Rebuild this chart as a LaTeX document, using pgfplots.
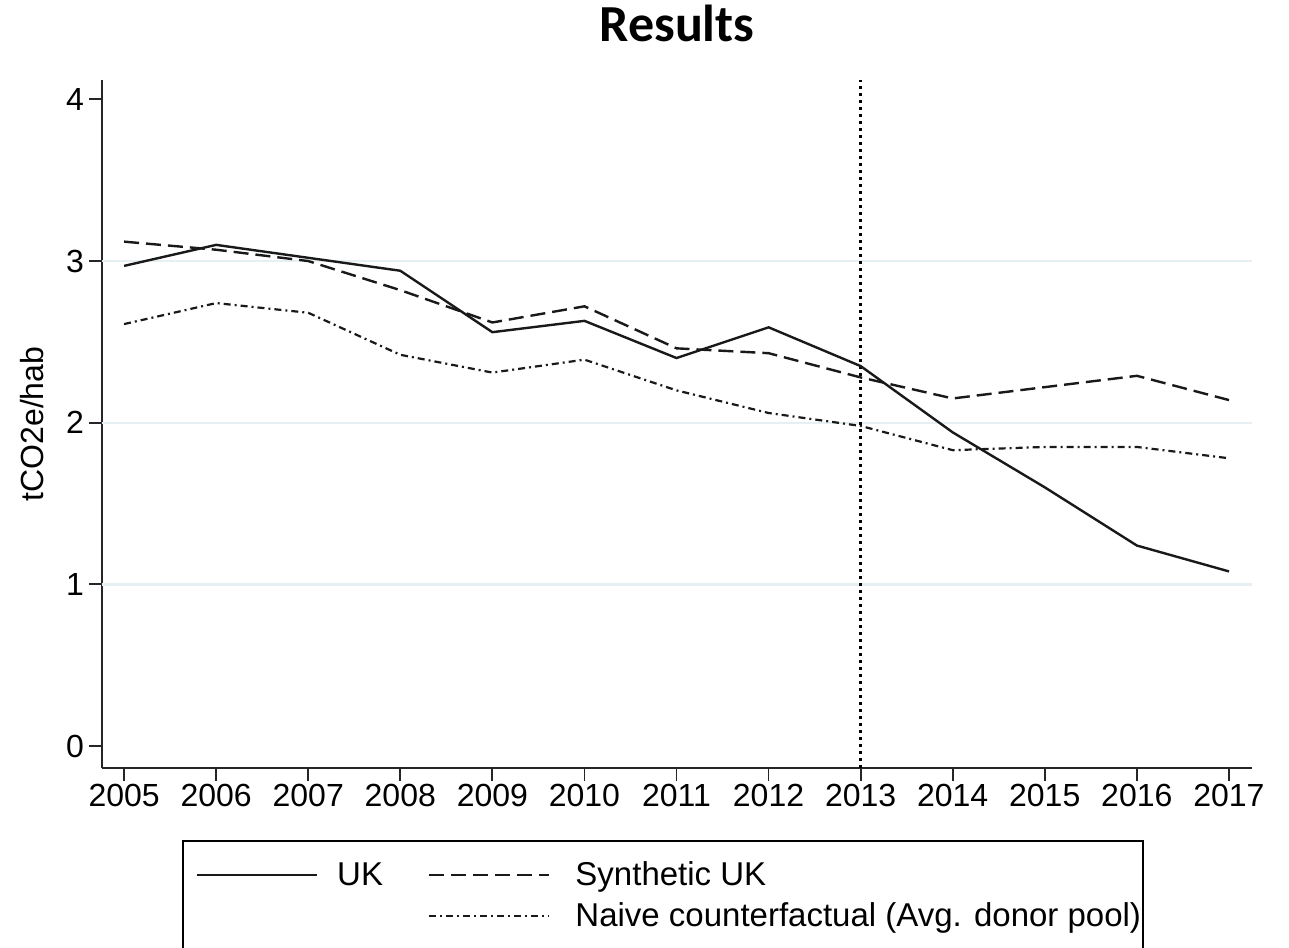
\documentclass[border=0pt]{standalone}
\usepackage{pgfplots}
\pgfplotsset{compat=1.18}
\usepackage{fontspec}
\setmainfont{Liberation Sans}
\newfontfamily\titlefont{Carlito}
\definecolor{gridc}{RGB}{230,239,241}
\begin{document}
\begin{tikzpicture}
\begin{axis}[
  name=ax,
  scale only axis, width=575pt, height=344pt,
  xmin=2004.76, xmax=2017.25, ymin=-0.136, ymax=4.12,
  axis x line*=bottom, axis y line*=left,
  axis line style={line width=1pt, black!85},
  xtick={2005,...,2017}, ytick={0,1,2,3,4},
  tick align=outside, major tick length=6.5pt,
  tick style={line width=0.9pt, black!85},
  /pgf/number format/assume math mode=true,
  /pgf/number format/1000 sep={},
  ticklabel style={font=\fontsize{16}{19}\selectfont},
  xticklabel style={yshift=2pt},
  yticklabel style={xshift=1pt},
  extra y ticks={1,2,3}, extra y tick labels={},
  extra y tick style={grid=major, major grid style={color=gridc, line width=1.2pt}, tick style={draw=none}},
  ylabel={tCO2e/hab},
  ylabel style={font=\fontsize{16}{19}\selectfont, at={(axis description cs:-0.0513,0.5)}, anchor=base},
  title={Results},
  title style={font=\titlefont\bfseries\fontsize{26}{30}\selectfont, at={(axis description cs:0.5,1.0378)}, anchor=base, yshift=0pt},
  legend columns=2,
  legend cell align=left,
  legend image code/.code={\path (0pt,0pt); \draw[#1, line width=1.2pt] (5.5pt,0pt) -- (65.5pt,0pt);},
  legend style={at={(axis description cs:0.0696,-0.1047)}, anchor=north west,
    draw=black, line width=0.8pt, inner xsep=1pt, inner ysep=7pt,
    font=\fontsize{16.5}{20}\selectfont,
    nodes={inner xsep=0pt, inner ysep=3.5pt},
    /tikz/column 1/.style={column sep=9.5pt},
    /tikz/column 2/.style={column sep=17pt},
    /tikz/column 3/.style={column sep=12.5pt}},
]
\addplot[black, line width=1.3pt, dash pattern=on 1.5pt off 2pt, forget plot] coordinates {(2013,-0.136) (2013,4.12)};
\addplot[black!90, line width=1.2pt] coordinates {
(2005,2.97) (2006,3.10) (2007,3.02) (2008,2.94) (2009,2.56) (2010,2.63) (2011,2.40)
(2012,2.59) (2013,2.35) (2014,1.94) (2015,1.60) (2016,1.24) (2017,1.08)};
\addlegendentry{UK}
\addplot[black!90, line width=1.2pt, dash pattern=on 7.5pt off 3.5pt] coordinates {
(2005,3.12) (2006,3.07) (2007,3.00) (2008,2.82) (2009,2.62) (2010,2.72) (2011,2.46)
(2012,2.43) (2013,2.28) (2014,2.15) (2015,2.22) (2016,2.29) (2017,2.14)};
\addlegendentry{Synthetic UK}
\addlegendimage{empty legend}
\addlegendentry{}
\addplot[black!90, line width=1.1pt, dash pattern=on 3.5pt off 2pt on 1pt off 2pt] coordinates {
(2005,2.61) (2006,2.74) (2007,2.68) (2008,2.42) (2009,2.31) (2010,2.39) (2011,2.20)
(2012,2.06) (2013,1.98) (2014,1.83) (2015,1.85) (2016,1.85) (2017,1.78)};
\addlegendentry{Naive counterfactual (Avg. donor pool)}
\end{axis}
\pgfresetboundingbox
\useasboundingbox ([xshift=-51pt,yshift=-89.5pt]ax.south west) rectangle ([xshift=18.5pt,yshift=40pt]ax.north east);
\end{tikzpicture}
\end{document}
